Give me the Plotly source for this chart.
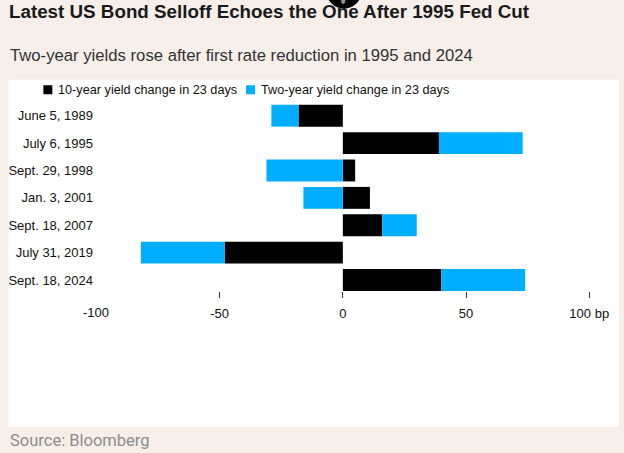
import plotly.graph_objects as go

dates = ["June 5, 1989", "July 6, 1995", "Sept. 29, 1998", "Jan. 3, 2001",
         "Sept. 18, 2007", "July 31, 2019", "Sept. 18, 2024"]
ten_year = [-18, 39, 5, 11, 16, -48, 40]
two_year = [-11, 34, -31, -16, 14, -34, 34]
tick_vals = [-50, 0, 50, 100]
tick_text = ["-50", "0", "50", "100 bp"]

W, H = 624, 453
L, R, T, B = 93.7, 19.6, 102.2, 162.4
PW, PH = W - L - R, H - T - B

def px(x):
    return (x - L) / PW

def py(y):
    return (H - B - y) / PH

BG = "#f5eee9"
BLUE = "#00aeff"
TXT = "Liberation Sans, Arial, sans-serif"

fig = go.Figure()
fig.add_trace(go.Bar(y=dates, x=ten_year, orientation="h", name="10-year yield change in 23 days",
                     marker=dict(color="#000000", line=dict(width=0)), showlegend=False))
fig.add_trace(go.Bar(y=dates, x=two_year, orientation="h", name="Two-year yield change in 23 days",
                     marker=dict(color=BLUE, line=dict(width=0)), showlegend=False))

shapes = [
    dict(type="rect", xref="paper", yref="paper", x0=px(8), x1=px(619.5), y0=py(426), y1=py(80),
         fillcolor="white", line=dict(width=0), layer="below"),
    dict(type="circle", xref="paper", yref="paper", x0=px(326), x1=px(362), y0=py(9), y1=py(-27),
         fillcolor="black", line=dict(width=0), layer="above"),
    # legend swatches
    dict(type="rect", xref="paper", yref="paper", x0=px(43), x1=px(52), y0=py(94.5), y1=py(85.5),
         fillcolor="#000000", line=dict(width=0)),
    dict(type="rect", xref="paper", yref="paper", x0=px(246), x1=px(255), y0=py(94.5), y1=py(85.5),
         fillcolor=BLUE, line=dict(width=0)),
]

annotations = [
    dict(text="<b>Latest US Bond Selloff Echoes the One After 1995 Fed Cut</b>", xref="paper", yref="paper",
         x=px(7), y=py(12), xanchor="left", yanchor="middle", showarrow=False,
         font=dict(family=TXT, size=18.8, color="#1a1a1a")),
    dict(text="»", xref="paper", yref="paper", x=px(344), y=py(2), xanchor="center", yanchor="middle",
         showarrow=False, textangle=90, font=dict(family="DejaVu Sans", size=10, color="white")),
    dict(text="Two-year yields rose after first rate reduction in 1995 and 2024", xref="paper", yref="paper",
         x=px(8), y=py(56), xanchor="left", yanchor="middle", showarrow=False,
         font=dict(family=TXT, size=16.7, color="#333333")),
    dict(text="10-year yield change in 23 days", xref="paper", yref="paper",
         x=px(56), y=py(90), xanchor="left", yanchor="middle", showarrow=False,
         font=dict(family=TXT, size=12.7, color="#111111")),
    dict(text="Two-year yield change in 23 days", xref="paper", yref="paper",
         x=px(259), y=py(90), xanchor="left", yanchor="middle", showarrow=False,
         font=dict(family=TXT, size=12.7, color="#111111")),
    dict(text="-100", xref="x", yref="paper", x=-100, y=py(312), xanchor="center", yanchor="middle",
         showarrow=False, font=dict(family=TXT, size=13, color="#111111")),
    dict(text="Source: Bloomberg", xref="paper", yref="paper", x=px(8), y=py(440), xanchor="left",
         yanchor="middle", showarrow=False, font=dict(family="Roboto, sans-serif", size=16.5, color="#8c8c8c")),
]

fig.update_layout(
    width=W, height=H, margin=dict(l=L, r=R, t=T, b=B, autoexpand=False),
    paper_bgcolor=BG, plot_bgcolor="white", barmode="relative", bargap=0.2,
    showlegend=False, shapes=shapes, annotations=annotations,
    xaxis=dict(range=[-101, 106], tickvals=tick_vals, ticktext=tick_text, ticks="outside", ticklen=6,
               tickcolor="#333333", tickwidth=1, showgrid=False, zeroline=False, showline=False,
               ticklabelstandoff=4, tickfont=dict(family=TXT, size=13, color="#111111")),
    yaxis=dict(type="category", categoryorder="array", categoryarray=dates, range=[6.4, -0.5],
               showgrid=False, zeroline=False, showline=False, ticks="",
               tickfont=dict(family=TXT, size=13, color="#111111")),
)

fig.write_html("out.html", config={"displayModeBar": False},
               post_script="document.body.style.margin='0';document.body.style.overflow='hidden';")
